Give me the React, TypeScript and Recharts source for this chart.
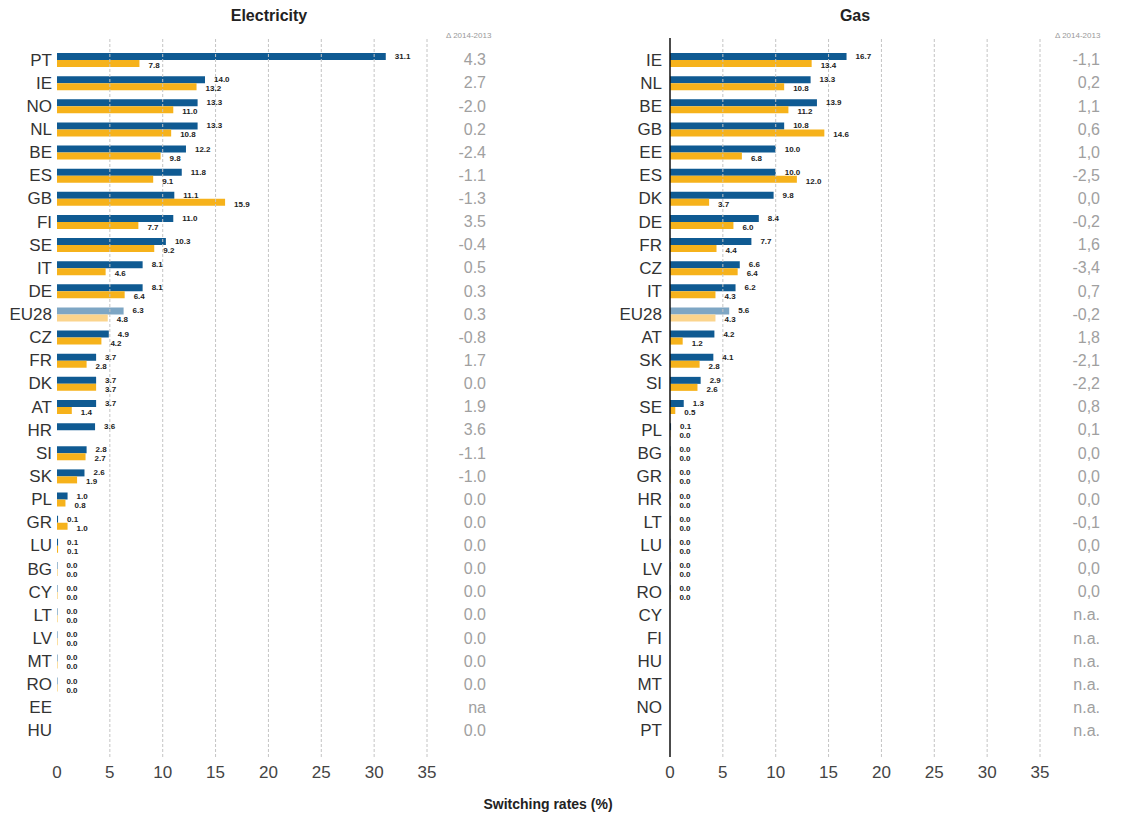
import React from 'react';
import { Bar, BarChart, Cell, LabelList, ReferenceLine, XAxis, YAxis } from 'recharts';

// Electricity, ordered as in the chart
const elecCats = ['PT', 'IE', 'NO', 'NL', 'BE', 'ES', 'GB', 'FI', 'SE', 'IT', 'DE', 'EU28', 'CZ', 'FR', 'DK', 'AT', 'HR', 'SI', 'SK', 'PL', 'GR', 'LU', 'BG', 'CY', 'LT', 'LV', 'MT', 'RO', 'EE', 'HU'];
const elecNow = [31.1, 14.0, 13.3, 13.3, 12.2, 11.8, 11.1, 11.0, 10.3, 8.1, 8.1, 6.3, 4.9, 3.7, 3.7, 3.7, 3.6, 2.8, 2.6, 1.0, 0.1, 0.1, 0.0, 0.0, 0.0, 0.0, 0.0, 0.0, null, null];
const elecPrev = [7.8, 13.2, 11.0, 10.8, 9.8, 9.1, 15.9, 7.7, 9.2, 4.6, 6.4, 4.8, 4.2, 2.8, 3.7, 1.4, null, 2.7, 1.9, 0.8, 1.0, 0.1, 0.0, 0.0, 0.0, 0.0, 0.0, 0.0, null, null];
const elecDelta = ['4.3', '2.7', '-2.0', '0.2', '-2.4', '-1.1', '-1.3', '3.5', '-0.4', '0.5', '0.3', '0.3', '-0.8', '1.7', '0.0', '1.9', '3.6', '-1.1', '-1.0', '0.0', '0.0', '0.0', '0.0', '0.0', '0.0', '0.0', '0.0', '0.0', 'na', '0.0'];

// Gas
const gasCats = ['IE', 'NL', 'BE', 'GB', 'EE', 'ES', 'DK', 'DE', 'FR', 'CZ', 'IT', 'EU28', 'AT', 'SK', 'SI', 'SE', 'PL', 'BG', 'GR', 'HR', 'LT', 'LU', 'LV', 'RO', 'CY', 'FI', 'HU', 'MT', 'NO', 'PT'];
const gasNow = [16.7, 13.3, 13.9, 10.8, 10.0, 10.0, 9.8, 8.4, 7.7, 6.6, 6.2, 5.6, 4.2, 4.1, 2.9, 1.3, 0.1, 0.0, 0.0, 0.0, 0.0, 0.0, 0.0, 0.0, null, null, null, null, null, null];
const gasPrev = [13.4, 10.8, 11.2, 14.6, 6.8, 12.0, 3.7, 6.0, 4.4, 6.4, 4.3, 4.3, 1.2, 2.8, 2.6, 0.5, 0.0, 0.0, 0.0, 0.0, 0.0, 0.0, 0.0, 0.0, null, null, null, null, null, null];
const gasDelta = ['-1,1', '0,2', '1,1', '0,6', '1,0', '-2,5', '0,0', '-0,2', '1,6', '-3,4', '0,7', '-0,2', '1,8', '-2,1', '-2,2', '0,8', '0,1', '0,0', '0,0', '0,0', '-0,1', '0,0', '0,0', '0,0', 'n.a.', 'n.a.', 'n.a.', 'n.a.', 'n.a.', 'n.a.'];

const xTicks = [0, 5, 10, 15, 20, 25, 30, 35];

const BLUE = '#0f5a92';
const YELLOW = '#f6b21b';
const BLUE_LIGHT = '#7ea6c4';
const YELLOW_LIGHT = '#fbd48c';
const FONT = '"Liberation Sans", Arial, sans-serif';

type Row = { cat: string; now: number | null; prev: number | null; delta: string };

const makeRows = (cats: string[], now: (number | null)[], prev: (number | null)[], delta: string[]): Row[] =>
  cats.map((c, i) => ({ cat: c, now: now[i], prev: prev[i], delta: delta[i] }));

// zero values still get a hairline bar so that their "0.0" label is drawn
const minSize = (v: any) => (v === 0 ? 0.4 : 0);

const valueLabel = (dy: number) => (props: any) => {
  const { x, y, width, height, value } = props;
  if (value === null || value === undefined) return null;
  return (
    <text x={x + width + 9} y={y + height / 2 + dy} fontSize={8} fontWeight="bold" fill="#222" fontFamily={FONT}>
      {Number(value).toFixed(1)}
    </text>
  );
};

type PanelProps = {
  rows: Row[];
  width: number;
  yWidth: number;
  rightWidth: number;
  deltaX: number;
  axisLine: boolean;
};

const Panel = ({ rows, width, yWidth, rightWidth, deltaX, axisLine }: PanelProps) => {
  const deltaOf = (cat: string) => rows.find((r) => r.cat === cat)?.delta ?? '';
  return (
    <BarChart
      width={width}
      height={800}
      data={rows}
      layout="vertical"
      margin={{ top: 38, right: 0, bottom: 13, left: 0 }}
      barSize={7}
      barGap={0}
    >
      <XAxis
        type="number"
        domain={[0, 35]}
        ticks={xTicks}
        axisLine={false}
        tickLine={false}
        tickSize={6}
        tickMargin={3}
        height={30}
        tick={{ fontSize: 17, fill: '#444', fontFamily: FONT }}
      />
      <YAxis
        yAxisId="l"
        type="category"
        dataKey="cat"
        width={yWidth}
        padding={{ top: 10, bottom: 15 }}
        axisLine={axisLine ? { stroke: '#111', strokeWidth: 1.5 } : false}
        tickLine={false}
        tickSize={0}
        tickMargin={axisLine ? 8 : 5}
        interval={0}
        tick={{ fontSize: 17, fill: '#333', fontFamily: FONT }}
      />
      <YAxis
        yAxisId="r"
        orientation="right"
        type="category"
        dataKey="cat"
        width={rightWidth}
        padding={{ top: 10, bottom: 15 }}
        axisLine={false}
        tickLine={false}
        interval={0}
        tick={(p: any) => (
          <text x={deltaX} y={p.y} dy="0.355em" textAnchor="end" fontSize={16} fill="#a0a0a0" fontFamily={FONT}>
            {deltaOf(p.payload.value)}
          </text>
        )}
      />
      {xTicks.slice(1).map((t) => (
        <ReferenceLine key={t} x={t} yAxisId="l" stroke="#c4c4c4" strokeDasharray="3 2" />
      ))}
      <Bar dataKey="now" yAxisId="l" minPointSize={minSize} isAnimationActive={false}>
        {rows.map((r) => (
          <Cell key={r.cat} fill={r.cat === 'EU28' ? BLUE_LIGHT : BLUE} />
        ))}
        <LabelList dataKey="now" content={valueLabel(2.5)} />
      </Bar>
      <Bar dataKey="prev" yAxisId="l" minPointSize={minSize} isAnimationActive={false}>
        {rows.map((r) => (
          <Cell key={r.cat} fill={r.cat === 'EU28' ? YELLOW_LIGHT : YELLOW} />
        ))}
        <LabelList dataKey="prev" content={valueLabel(4.5)} />
      </Bar>
    </BarChart>
  );
};

const txt = (extra: React.CSSProperties): React.CSSProperties => ({
  position: 'absolute',
  fontFamily: FONT,
  whiteSpace: 'nowrap',
  ...extra,
});

export default function App() {
  const elecRows = makeRows(elecCats, elecNow, elecPrev, elecDelta);
  const gasRows = makeRows(gasCats, gasNow, gasPrev, gasDelta);
  return (
    <div style={{ position: 'absolute', left: 0, top: 0, width: 1128, height: 821, background: '#fff' }}>
      <div style={{ position: 'absolute', left: 0, top: 0 }}>
        <Panel rows={elecRows} width={560} yWidth={57} rightWidth={133} deltaX={486} axisLine={false} />
      </div>
      <div style={{ position: 'absolute', left: 600, top: 0 }}>
        <Panel rows={gasRows} width={528} yWidth={70} rightWidth={88} deltaX={500} axisLine={true} />
      </div>
      <div style={txt({ left: 169, width: 200, top: 7, textAlign: 'center', fontSize: 16, fontWeight: 'bold', color: '#222' })}>
        Electricity
      </div>
      <div style={txt({ left: 755, width: 200, top: 7, textAlign: 'center', fontSize: 16, fontWeight: 'bold', color: '#222' })}>
        Gas
      </div>
      <div style={txt({ left: 446, top: 31, fontSize: 8, color: '#999' })}>Δ 2014-2013</div>
      <div style={txt({ left: 1055, top: 31, fontSize: 8, color: '#999' })}>Δ 2014-2013</div>
      <div style={txt({ left: 398, width: 300, top: 796, textAlign: 'center', fontSize: 14, fontWeight: 'bold', color: '#222' })}>
        Switching rates (%)
      </div>
    </div>
  );
}
